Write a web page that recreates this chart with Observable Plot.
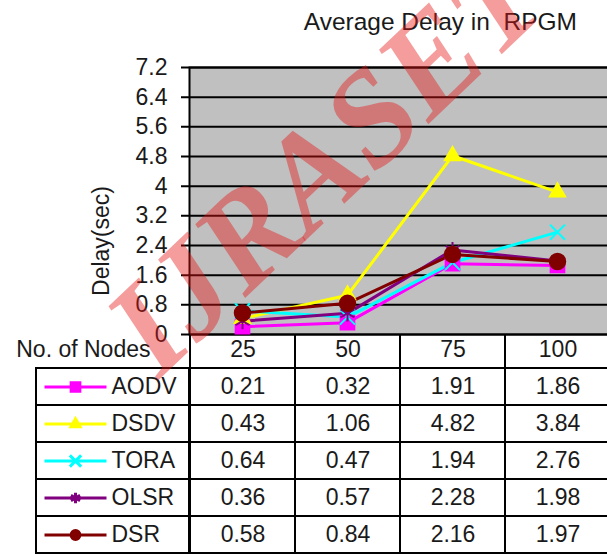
<!DOCTYPE html>
<html><head><meta charset="utf-8">
<script src="https://cdn.jsdelivr.net/npm/d3@7"></script>
<script src="https://cdn.jsdelivr.net/npm/@observablehq/plot@0.6"></script>
<style>
html,body{margin:0;padding:0;background:#fff;overflow:hidden;}
#wrap{position:relative;width:607px;height:555px;overflow:hidden;font-family:"Liberation Sans",Arial,sans-serif;}
#wrap svg{position:absolute;left:0;}
#title{position:absolute;right:30px;top:10px;font-size:24.5px;line-height:1;color:#1a1a1a;white-space:pre;}
#ylabel{position:absolute;left:101px;top:241px;transform:translate(-50%,-50%) rotate(-90deg);font-size:23px;line-height:1;color:#1a1a1a;white-space:nowrap;z-index:5;}
#wm{position:absolute;left:325px;top:160px;transform:translate(-50%,-50%) rotate(-43.5deg);font-family:"Liberation Serif","Times New Roman",serif;font-style:italic;font-weight:bold;font-size:134px;line-height:1;color:rgba(230,20,20,0.42);white-space:nowrap;pointer-events:none;z-index:10;}
</style></head>
<body><div id="wrap"><div id="title"></div><div id="ylabel"></div><div id="wm"></div></div>
<script>
// ---- data ----
const nodes = [25, 50, 75, 100];
const protocols = ["AODV", "DSDV", "TORA", "OLSR", "DSR"];
const aodvDelay = [0.21, 0.32, 1.91, 1.86];
const dsdvDelay = [0.43, 1.06, 4.82, 3.84];
const toraDelay = [0.64, 0.47, 1.94, 2.76];
const olsrDelay = [0.36, 0.57, 2.28, 1.98];
const dsrDelay  = [0.58, 0.84, 2.16, 1.97];
const yTicks = [0, 0.8, 1.6, 2.4, 3.2, 4, 4.8, 5.6, 6.4, 7.2];
const titleText = "Average Delay in  RPGM";
const yLabel = "Delay(sec)";
const xLabel = "No. of Nodes";
const watermark = "IJRASET";

// ---- styling ----
const colors = ["#FF00FF", "#FFFF00", "#00FFFF", "#800080", "#800000"];
const symbolNames = ["square", "triangle", "times", "asterisk", "circle"];
const d3Symbols = [d3.symbolSquare, d3.symbolTriangle, d3.symbolTimes, d3.symbolAsterisk, d3.symbolCircle];
const filled = [true, true, false, false, true];
const chartR = [8, 6, 6.9, 7.6, 8];
const legendR = [4.9, 3.4, 5.2, 5, 4.4];
const font = '"Liberation Sans", Arial, sans-serif';
const textColor = "#1a1a1a";
const fs = 23;

const series = [aodvDelay, dsdvDelay, toraDelay, olsrDelay, dsrDelay];
const rows = protocols.flatMap((p, i) => nodes.map((n, j) => ({protocol: p, nodes: n, delay: series[i][j]})));

document.getElementById("title").textContent = titleText;
document.getElementById("ylabel").textContent = yLabel;
document.getElementById("wm").textContent = watermark;

const baseStyle = {background: "transparent", fontFamily: font, fontSize: fs + "px", color: textColor, maxWidth: "none", overflow: "visible"};

// ---- chart ----
const chart = Plot.plot({
  width: 610, height: 336,
  marginLeft: 189, marginRight: 0, marginTop: 67, marginBottom: 2,
  style: baseStyle,
  x: {type: "point", domain: nodes, padding: 0.5, axis: null},
  y: {domain: [0, 7.2], ticks: yTicks, tickSize: 0, tickPadding: 22, tickFormat: d3.format("~g"), label: null},
  color: {domain: protocols, range: colors},
  marks: [
    Plot.frame({fill: "#C0C0C0"}),
    Plot.ruleY(yTicks, {stroke: "black", strokeWidth: 2, insetLeft: -8}),
    Plot.frame({stroke: "black", strokeWidth: 2}),
    Plot.line(rows, {x: "nodes", y: "delay", z: "protocol", stroke: "protocol", strokeWidth: 3}),
    ...protocols.map((p, i) => Plot.dot(rows.filter(d => d.protocol === p), {
      x: "nodes", y: "delay", symbol: symbolNames[i], r: chartR[i],
      fill: filled[i] ? colors[i] : "none", stroke: colors[i], strokeWidth: filled[i] ? 1.5 : 2
    }))
  ]
});

// ---- table ----
const legendSymbol = base => ({draw(ctx, size) { ctx.moveTo(-31, 0); ctx.lineTo(31, 0); base.draw(ctx, size); }});

const table = Plot.plot({
  width: 610, height: 222.5,
  marginLeft: 189, marginRight: 0, marginTop: 0, marginBottom: 0,
  style: baseStyle,
  x: {type: "band", domain: nodes, padding: 0, axis: null},
  y: {type: "band", domain: ["header", ...protocols], padding: 0, axis: null},
  marks: [
    Plot.cell(protocols, {y: d => d, fill: "white", stroke: "black", strokeWidth: 2, insetLeft: -153, insetRight: 421}),
    Plot.cell(rows, {x: "nodes", y: "protocol", fill: "white", stroke: "black", strokeWidth: 2}),
    Plot.cell(nodes, {x: d => d, y: () => "header", fill: "white", stroke: "black", strokeWidth: 2}),
    Plot.text(nodes, {x: d => d, y: () => "header", text: d => String(d), fill: textColor, fontSize: fs}),
    Plot.text(rows, {x: "nodes", y: "protocol", text: d => d.delay.toFixed(2), fill: textColor, fontSize: fs}),
    Plot.text([xLabel], {y: () => "header", text: d => d, frameAnchor: "left", dx: -39, textAnchor: "end", fill: textColor, fontSize: fs}),
    Plot.text(protocols, {y: d => d, text: d => d, frameAnchor: "left", dx: -78, textAnchor: "start", fill: textColor, fontSize: fs}),
    ...protocols.map((p, i) => Plot.dot([p], {
      y: d => d, frameAnchor: "left", dx: -114, symbol: legendSymbol(d3Symbols[i]), r: legendR[i],
      fill: filled[i] ? colors[i] : "none", stroke: colors[i], strokeWidth: 3
    }))
  ]
});

const wrap = document.getElementById("wrap");
table.style.top = "331px";
chart.style.top = "0px";
wrap.appendChild(table);
wrap.appendChild(chart);
</script>
</body></html>
